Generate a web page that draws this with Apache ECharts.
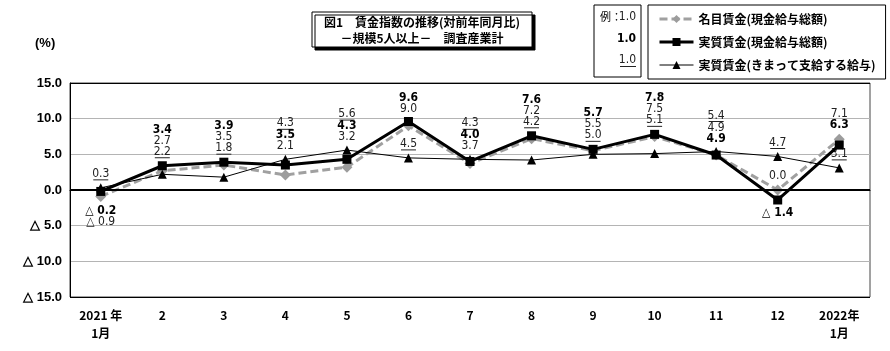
<!DOCTYPE html>
<html>
<head>
<meta charset="utf-8">
<script src="https://cdn.jsdelivr.net/npm/echarts@6/dist/echarts.min.js"></script>
<style>
html, body { margin: 0; padding: 0; background: #fff; }
#chart { width: 890px; height: 351px; }
</style>
</head>
<body>
<div id="chart"></div>
<script>
// categories and values (%)
const months = ['2021 年\n1月', '2', '3', '4', '5', '6', '7', '8', '9', '10', '11', '12', '2022年\n1月']
const nominal = [-0.9, 2.7, 3.5, 2.1, 3.2, 9.0, 3.7, 7.2, 5.5, 7.5, 4.9, 0.0, 7.1]
const real = [-0.2, 3.4, 3.9, 3.5, 4.3, 9.6, 4.0, 7.6, 5.7, 7.8, 4.9, -1.4, 6.3]
const scheduled = [0.3, 2.2, 1.8, 4.3, 5.6, 4.5, 4.3, 4.2, 5.0, 5.1, 5.4, 4.7, 3.1]
const seriesNames = ['名目賃金(現金給与総額)', '実質賃金(現金給与総額)', '実質賃金(きまって支給する給与)']

// value label stacks: [month index, anchor series, position, series keys top -> bottom]
const stacks = [
	[0, 's', 'top', ['s']], [0, 'n', 'bottom', ['r', 'n']],
	[1, 'r', 'top', ['r', 'n', 's']],
	[2, 'r', 'top', ['r', 'n', 's']],
	[3, 's', 'top', ['s', 'r', 'n']],
	[4, 's', 'top', ['s', 'r', 'n']],
	[5, 'r', 'top', ['r', 'n']], [5, 's', 'top', ['s']],
	[6, 's', 'top', ['s', 'r', 'n']],
	[7, 'r', 'top', ['r', 'n', 's']],
	[8, 'r', 'top', ['r', 'n', 's']],
	[9, 'r', 'top', ['r', 'n', 's']],
	[10, 's', 'top', ['s', 'n', 'r']],
	[11, 's', 'top', ['s']], [11, 'n', 'top', ['n']], [11, 'r', 'bottom', ['r']],
	[12, 'n', 'top', ['n', 'r']], [12, 's', 'top', ['s']]
]

const values = { n: nominal, r: real, s: scheduled }
const fmt = v => v < 0 ? '△ ' + Math.abs(v).toFixed(1) : v.toFixed(1)
const narrow = '"Liberation Sans Narrow", "DejaVu Sans Condensed", sans-serif'
const jp = '"Noto Sans CJK JP", sans-serif'

const rich = {
	n: { fontFamily: narrow, fontSize: 12, color: '#222', lineHeight: 11 },
	r: { fontFamily: narrow, fontSize: 12, fontWeight: 'bold', color: '#000', lineHeight: 11 },
	s: { fontFamily: narrow, fontSize: 12, color: '#222', lineHeight: 11 },
	ul: { width: 15, height: 1, backgroundColor: '#222', lineHeight: 1 }
}

const buildData = key => {
	const data = values[key].map(v => ({ value: v }))
	stacks.filter(st => st[1] === key).forEach(([i, , pos, keys]) => {
		const text = keys.map(k => k === 's' ? `{s|${fmt(values[k][i])}}\n{ul|}` : `{${k}|${fmt(values[k][i])}}`).join('\n')
		data[i].label = { show: true, position: pos, distance: 3, formatter: text, rich }
	})
	return data
}

const chart = echarts.init(document.getElementById('chart'))

const option = {
	animation: false,
	grid: { left: 70, right: 20, top: 83, bottom: 54, show: true, borderColor: '#444', borderWidth: 1 },
	legend: {
		left: 648, top: 5, orient: 'vertical',
		itemWidth: 34, itemHeight: 10, itemGap: 9,
		padding: [7, 10, 7, 10],
		borderColor: '#000', borderWidth: 1,
		textStyle: { fontFamily: jp, fontWeight: 'bold', fontSize: 12, color: '#000', lineHeight: 14 },
		data: [
			{ name: seriesNames[0], lineStyle: { width: 3 } },
			{ name: seriesNames[1], lineStyle: { width: 3 } },
			{ name: seriesNames[2], lineStyle: { width: 1 } }
		]
	},
	xAxis: {
		type: 'category',
		data: months,
		boundaryGap: true,
		axisTick: { show: false },
		axisLine: { lineStyle: { color: '#000', width: 1 } },
		axisLabel: { color: '#000', fontWeight: 'bold', fontSize: 12, fontFamily: jp, lineHeight: 18, margin: 9 }
	},
	yAxis: {
		type: 'value',
		min: -15, max: 15, interval: 5,
		axisLine: { show: true, lineStyle: { color: '#000' } },
		axisTick: { show: false },
		axisLabel: { color: '#000', fontWeight: 'bold', fontSize: 13, fontFamily: 'Liberation Sans, sans-serif', margin: 8, formatter: fmt },
		splitLine: { lineStyle: { color: ['#000', '#b4b4b4', '#b4b4b4', '#000', '#b4b4b4', '#b4b4b4', '#000'] } }
	},
	graphic: [
		{ type: 'text', left: 35, top: 37, style: { text: '(%)', font: 'bold 13px Liberation Sans, sans-serif', fill: '#000' } },
		{ type: 'rect', shape: { x: 312, y: 12, width: 220, height: 35 }, style: { fill: '#fff', stroke: '#000', lineWidth: 1, shadowColor: '#000', shadowOffsetX: 3, shadowOffsetY: 3, shadowBlur: 0 } },
		{ type: 'text', x: 422, y: 22, style: { text: '図1　賃金指数の推移(対前年同月比)', font: 'bold 12px "Noto Sans CJK JP"', fill: '#000', align: 'center', verticalAlign: 'middle' } },
		{ type: 'text', x: 422, y: 38, style: { text: '－規模5人以上－　調査産業計', font: 'bold 12px "Noto Sans CJK JP"', fill: '#000', align: 'center', verticalAlign: 'middle' } },
		{ type: 'rect', shape: { x: 594, y: 5, width: 47, height: 72 }, style: { fill: '#fff', stroke: '#000', lineWidth: 1 } },
		{ type: 'text', x: 600, y: 17, style: { text: '例：', font: '11px "Noto Sans CJK JP"', fill: '#000', verticalAlign: 'middle' } },
		{ type: 'text', x: 636, y: 17, style: { text: '1.0', font: '12px ' + narrow, fill: '#222', align: 'right', verticalAlign: 'middle' } },
		{ type: 'text', x: 636, y: 39, style: { text: '1.0', font: 'bold 12px ' + narrow, fill: '#000', align: 'right', verticalAlign: 'middle' } },
		{ type: 'text', x: 636, y: 60, style: { text: '1.0', font: '12px ' + narrow, fill: '#222', align: 'right', verticalAlign: 'middle' } },
		{ type: 'rect', shape: { x: 620, y: 66, width: 16, height: 1 }, style: { fill: '#222' } }
	],
	series: [
		{
			name: seriesNames[0], type: 'line', z: 2,
			data: buildData('n'),
			symbol: 'diamond', symbolSize: 11,
			itemStyle: { color: '#9c9c9c' },
			lineStyle: { color: '#a0a0a0', width: 3, type: [8, 4] }
		},
		{
			name: seriesNames[1], type: 'line', z: 4,
			data: buildData('r'),
			symbol: 'rect', symbolSize: 9,
			itemStyle: { color: '#000' },
			lineStyle: { color: '#000', width: 3 },
			markLine: {
				silent: true, symbol: 'none', label: { show: false },
				lineStyle: { color: '#000', width: 2, type: 'solid' },
				data: [{ yAxis: 0 }]
			}
		},
		{
			name: seriesNames[2], type: 'line', z: 3,
			data: buildData('s'),
			symbol: 'triangle', symbolSize: 9,
			itemStyle: { color: '#000' },
			lineStyle: { color: '#000', width: 1 }
		}
	]
}

chart.setOption(option)
</script>
</body>
</html>
